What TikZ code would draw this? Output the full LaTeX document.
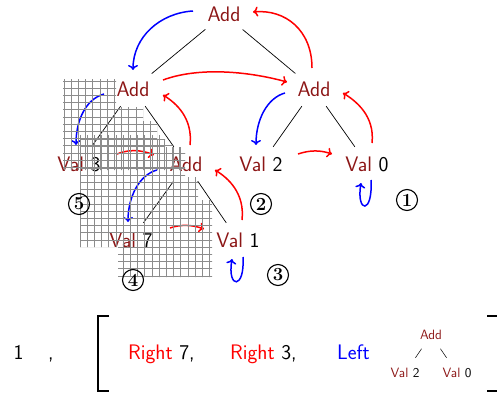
\documentclass[tikz,border=0pt]{standalone}
\usepackage{fontspec}
\usetikzlibrary{arrows.meta,calc}
\definecolor{dkred}{RGB}{140,22,22}
\tikzset{
  tnode/.style={font=\sffamily\fontsize{21}{25}\selectfont, text=dkred,
                minimum height=34pt, inner xsep=2pt, inner ysep=0pt},
  tedge/.style={line width=0.7pt, black},
  redarr/.style={draw=red, line width=1.5pt, -{To[length=5pt,width=10pt]}},
  bluearr/.style={draw=blue, line width=1.5pt, -{To[length=5pt,width=10pt]}},
  stepnum/.style={circle, draw, line width=1.1pt, minimum size=21pt, inner sep=0pt,
                  font=\fontsize{18.5}{18.5}\selectfont\bfseries},
  gridline/.style={line width=0.9pt, black!45},
  smallnode/.style={font=\sffamily\fontsize{13.5}{15}\selectfont, text=dkred, inner sep=0pt},
  bottext/.style={font=\sffamily\fontsize{21}{25}\selectfont, anchor=base west, inner sep=0pt},
  bracket/.style={line width=1.6pt, black},
}
\begin{document}
\begin{tikzpicture}[x=1pt,y=-1pt]
\useasboundingbox (0,0) rectangle (497,396);

% tree nodes
\node[tnode] (addT) at (224,14) {Add};
\node[tnode] (addL) at (133,89) {Add};
\node[tnode] (addR) at (314,89) {Add};
\node[tnode] (val3) at (79,164) {Val \textcolor{black}{3}};
\node[tnode] (addM) at (186,164) {Add};
\node[tnode] (val2) at (261,164) {Val \textcolor{black}{2}};
\node[tnode] (val0) at (367,164) {Val \textcolor{black}{0}};
\node[tnode] (val7) at (131,240) {Val \textcolor{black}{7}};
\node[tnode] (val1) at (238,240) {Val \textcolor{black}{1}};

% tree edges
\draw[tedge] (addT) -- (addL);
\draw[tedge] (addT) -- (addR);
\draw[tedge] (addL) -- (val3);
\draw[tedge] (addL) -- (addM);
\draw[tedge] (addR) -- (val2);
\draw[tedge] (addR) -- (val0);
\draw[tedge] (addM) -- (val7);
\draw[tedge] (addM) -- (val1);

% moves down to the left
\draw[bluearr] ($(addT)+(-31,-3)$) .. controls +(-33,2) and +(0,-33) .. ($(addL)+(0,-19)$);
\draw[bluearr] ($(addL)+(-29,5)$) .. controls +(-18,5) and +(0,-25) .. ($(val3)+(-3,-19)$);
\draw[bluearr] ($(addR)+(-29,4)$) .. controls +(-18,5) and +(0,-25) .. ($(val2)+(-5,-19)$);
\draw[bluearr] ($(addM)+(-29,6)$) .. controls +(-18,5) and +(0,-25) .. ($(val7)+(-3,-18)$);
\draw[bluearr] ($(val0)+(4,16)$) .. controls +(2,35) and +(-5,30) .. ($(val0)+(-6,19)$);
\draw[bluearr] ($(val1)+(5,17)$) .. controls +(2,33) and +(-5,30) .. ($(val1)+(-6,19)$);

% moves up and to the right
\draw[redarr] ($(addR)+(-2,-21)$) .. controls +(0,-38) and +(32,-3) .. ($(addT)+(29,-2)$);
\draw[redarr] ($(addL)+(30,-9)$) .. controls +(35,-13) and +(-40,-11) .. ($(addR)+(-27,-7)$);
\draw[redarr] ($(addM)+(4,-19)$) .. controls +(3,-27) and +(13,8) .. ($(addL)+(30,6)$);
\draw[redarr] ($(val0)+(5,-21)$) .. controls +(3,-27) and +(13,8) .. ($(addR)+(29,4)$);
\draw[redarr] ($(val1)+(4,-20)$) .. controls +(3,-27) and +(13,8) .. ($(addM)+(29,6)$);
\draw[redarr] ($(val3)+(38,-10)$) .. controls +(12,-5) and +(-12,-5) .. ($(addM)+(-32,-9)$);
\draw[redarr] ($(val2)+(37,-10)$) .. controls +(12,-4) and +(-12,-4) .. ($(val0)+(-35,-10)$);
\draw[redarr] ($(val7)+(39,-12)$) .. controls +(11,-4) and +(-11,-4) .. ($(val1)+(-34,-11)$);

% hatched contexts
\begin{scope}
  \clip (63,79) -- (116,79) -- (116,107) -- (143,107) -- (143,121) -- (157,121)
        -- (157,140) -- (172,140) -- (172,147) -- (185,147) -- (185,170) -- (63,170) -- cycle;
  \foreach \i in {0,...,18} \draw[gridline] ({64+7.2*\i},70) -- ({64+7.2*\i},290);
  \foreach \j in {0,...,28} \draw[gridline] (55,{81+7.2*\j}) -- (220,{81+7.2*\j});
\end{scope}
\begin{scope}
  \clip (80,135) -- (165,135) -- (165,147) -- (185,147) -- (185,177) -- (198,177)
        -- (198,200) -- (212,200) -- (212,277) -- (118,277) -- (118,247) -- (80,247) -- cycle;
  \foreach \i in {0,...,22} \draw[gridline] ({65.6+7.2*\i},70) -- ({65.6+7.2*\i},290);
  \foreach \j in {0,...,28} \draw[gridline] (55,{81.6+7.2*\j}) -- (220,{81.6+7.2*\j});
\end{scope}

% step numbers
\node[stepnum] (s1) at (407,200) {1};
\node[stepnum] (s2) at (261,204) {2};
\node[stepnum] (s3) at (278,275) {3};
\node[stepnum] (s4) at (133,280) {4};
\node[stepnum] (s5) at (79,204) {5};

% resulting pair
\node[bottext] (one) at (13.5,359) {1};
\node[bottext] (comma) at (48,359) {,};
\draw[bracket] (109,316) -- (98,316) -- (98,391) -- (109,391);
\node[bottext] (r7) at (128,359) {\textcolor{red}{Right} 7,};
\node[bottext] (r3) at (230,359) {\textcolor{red}{Right} 3,};
\node[bottext] (lft) at (337,359) {\textcolor{blue}{Left}};
\node[smallnode] (sAdd) at (431,335) {Add};
\node[smallnode] (sV2) at (405,373) {Val \textcolor{black}{2}};
\node[smallnode] (sV0) at (457,373) {Val \textcolor{black}{0}};
\draw[line width=0.5pt] ($(sAdd)!0.36!(sV2)$) -- ($(sAdd)!0.6!(sV2)$);
\draw[line width=0.5pt] ($(sAdd)!0.36!(sV0)$) -- ($(sAdd)!0.6!(sV0)$);
\draw[bracket] (487,316) -- (505,316) -- (505,391) -- (487,391);
\end{tikzpicture}
\end{document}
